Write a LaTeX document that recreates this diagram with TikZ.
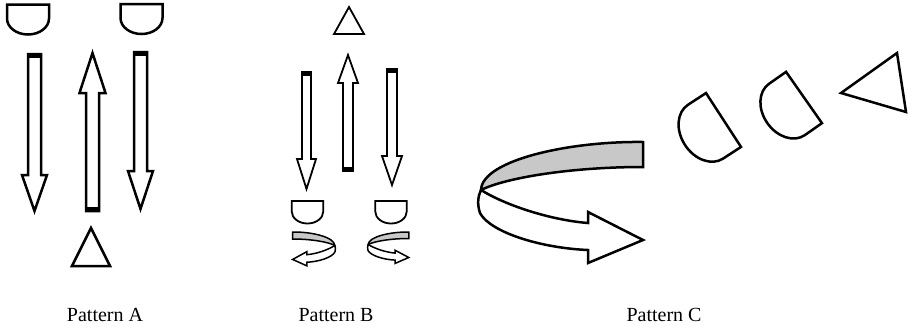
\documentclass[tikz,border=0pt]{standalone}
\usepackage{fontspec}
\setmainfont{Liberation Serif}
\definecolor{bandgrey}{RGB}{200,200,200}
\newcommand\hollowarrow[7]{%
  \draw[#7] ({#1-#2},#3) -- ({#1-#2},#4) -- ({#1-#5},#4) -- (#1,#6) -- ({#1+#5},#4) -- ({#1+#2},#4) -- ({#1+#2},#3) -- cycle;
  \fill ({#1-#2},#3) rectangle ({#1+#2},{#3+4*sign(#6-#3)});
}
\begin{document}
\begin{tikzpicture}[x=1pt,y=-1pt,line join=miter,
  shapeline/.style={draw=black,line width=2.5pt,fill=white},
  thinline/.style={draw=black,line width=1.8pt,fill=white},
  captxt/.style={font=\fontsize{20}{24}\selectfont,anchor=base},
  dshape/.pic={\draw[fill=white] (-21,0) -- (21,0) -- (21,14) arc[start angle=0,end angle=180,x radius=21,y radius=16] -- cycle;},
  ribbon/.pic={
    \draw[fill=bandgrey] (163,0) .. controls (90,-1) and (2,18) .. (1,48) .. controls (25,36) and (90,25) .. (163,25) -- cycle;
    \draw[fill=white] (1,48) .. controls (25,63) and (70,78) .. (108,81) -- (108,70) -- (163,98) -- (108,121) -- (108,108) .. controls (60,106) and (10,90) .. (0,71) .. controls (-3,62) and (-2,54) .. (1,48) -- cycle;
  }]
\useasboundingbox (0,0) rectangle (915,330);
% Pattern A
\pic[line width=2.5pt] at (28,4.5) {dshape};
\pic[line width=2.5pt] at (141.5,4) {dshape};
\hollowarrow{34.5}{6.5}{54}{175}{12.5}{211}{shapeline}
\hollowarrow{92.5}{6.5}{211}{93}{13}{53}{shapeline}
\hollowarrow{140.5}{6.5}{52}{171}{12.5}{209}{shapeline}
\draw[shapeline] (91,228) -- (110,266) -- (72,266) -- cycle;
% Pattern B
\draw[thinline] (349,7) -- (364,34) -- (334,34) -- cycle;
\hollowarrow{306.5}{4.5}{72}{159}{9.5}{189}{thinline}
\hollowarrow{348}{5}{171}{83}{10}{55}{thinline}
\hollowarrow{392}{5}{69}{156}{10}{185}{thinline}
\pic[line width=1.8pt,scale=0.75] at (307.5,201) {dshape};
\pic[line width=1.8pt,scale=0.75] at (391,201) {dshape};
\pic[line width=1.5pt,xscale=-0.26,yscale=0.28] at (335,232) {ribbon};
\pic[line width=1.5pt,xscale=0.25,yscale=0.26] at (368,232) {ribbon};
% Pattern C
\pic[line width=2.5pt] at (480,142) {ribbon};
\pic[line width=2.5pt,rotate=-57,scale=1.53] at (723.5,120) {dshape};
\pic[line width=2.5pt,rotate=-55,scale=1.49] at (804,97.5) {dshape};
\draw[shapeline] (841,93) -- (897,53) -- (906,112) -- cycle;
% captions
\node[captxt] (capA) at (105,321) {Pattern A};
\node[captxt] (capB) at (336,321) {Pattern B};
\node[captxt] (capC) at (664,321) {Pattern C};
\end{tikzpicture}
\end{document}
